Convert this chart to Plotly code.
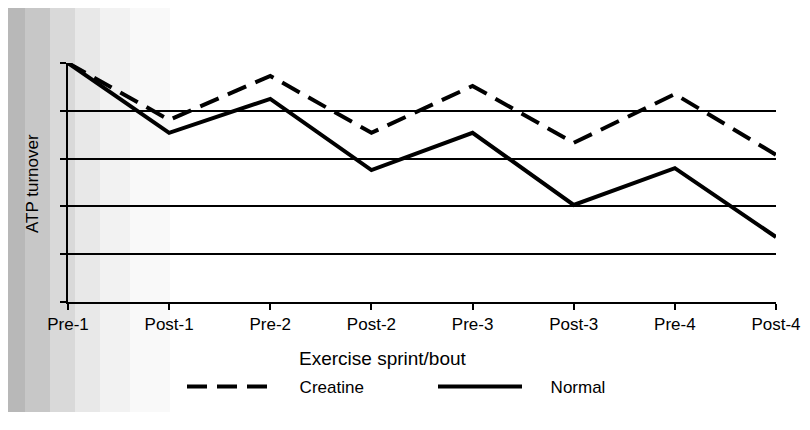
import plotly.graph_objects as go

categories = ["Pre-1", "Post-1", "Pre-2", "Post-2", "Pre-3", "Post-3", "Pre-4", "Post-4"]
creatine = [5.0, 3.81, 4.73, 3.54, 4.52, 3.33, 4.35, 3.08]
normal = [5.0, 3.54, 4.25, 2.76, 3.54, 2.03, 2.80, 1.36]
y_gridlines = [0, 1, 2, 3, 4, 5]
x_title = "Exercise sprint/bout"
y_title = "ATP turnover"

x = list(range(len(categories)))
NB = "\u00a0"

fig = go.Figure()
fig.add_trace(go.Scatter(x=x, y=creatine, mode="lines", name=NB * 5 + "Creatine",
                         line=dict(color="black", width=4, dash="20px,10px")))
fig.add_trace(go.Scatter(x=x, y=normal, mode="lines", name=NB * 5 + "Normal",
                         line=dict(color="black", width=4)))

# figure is placed 8px into the page; plot area 60..768 px, 55..294 px (239 tall)
W, H = 794, 404
PL, PW, PT, PH = 60, 708, 55, 239
def px(v):
    return (v - 8 - PL) / PW
def py(v):
    return (PT + PH - (v - 8)) / PH

# scanned-paper grey shading on the left
shapes = []
steps = [(0, 25, 0.28), (25, 50, 0.22), (50, 75, 0.15), (75, 100, 0.09), (100, 130, 0.05), (130, 170, 0.025)]
for a, b, op in steps:
    shapes.append(dict(type="rect", xref="paper", yref="paper", x0=px(a), x1=px(b),
                       y0=py(430), y1=py(0), fillcolor="black", opacity=op,
                       line=dict(width=0), layer="below"))

annotations = [
    dict(text=x_title, xref="paper", yref="paper", x=px(383), y=py(358),
         xanchor="center", yanchor="middle", showarrow=False, font=dict(size=19)),
    dict(text=y_title, xref="paper", yref="paper", x=px(32), y=py(184), textangle=-90,
         xanchor="center", yanchor="middle", showarrow=False, font=dict(size=17)),
]

fig.update_layout(
    width=W, height=H,
    margin=dict(l=PL, r=W - PL - PW, t=PT, b=H - PT - PH),
    paper_bgcolor="white", plot_bgcolor="rgba(0,0,0,0)",
    font=dict(family="Liberation Sans, Arial, sans-serif", size=17, color="black"),
    showlegend=True,
    legend=dict(orientation="h", xref="container", yref="container", x=(182 - 8) / W,
                y=1 - (387 - 8) / H, yanchor="middle", xanchor="left",
                entrywidth=152, entrywidthmode="pixels", itemwidth=84,
                bgcolor="rgba(0,0,0,0)", font=dict(size=17)),
    shapes=shapes,
    annotations=annotations,
)
fig.update_xaxes(range=[0, 7], tickmode="array", tickvals=x, ticktext=categories,
                 showline=True, linecolor="black", linewidth=2, ticks="outside",
                 ticklen=6, tickwidth=2, tickcolor="black", showgrid=False, zeroline=False,
                 automargin=False, ticklabeloverflow="allow")
fig.update_yaxes(range=[0, 5], tickmode="array", tickvals=y_gridlines, showticklabels=False,
                 showline=True, linecolor="black", linewidth=2, ticks="outside",
                 ticklen=6, tickwidth=2, tickcolor="black", showgrid=True,
                 gridcolor="black", gridwidth=2, zeroline=False, automargin=False)

fig.write_html("out.html")
